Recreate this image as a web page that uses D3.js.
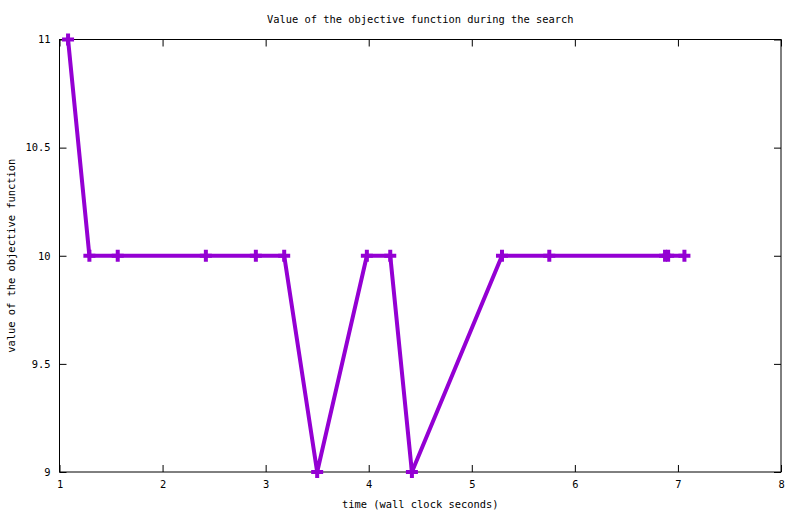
<!DOCTYPE html>
<html>
<head lang="en">
  <meta charset="UTF-8">
  <title>Value of the objective function during the search</title>
  <script src="https://cdn.jsdelivr.net/npm/d3@7"></script>
</head>
<style>
  body { margin: 0; background: #fff; }
  #chart text {
    font-family: "DejaVu Sans Mono", monospace;
    font-size: 10.4px;
    fill: #000;
  }
  #chart .frame { fill: none; stroke: #000; stroke-width: 1; }
  #chart .tick line { stroke: #000; }
  #chart .domain { display: none; }
</style>
<body>

<svg id="chart"></svg>

<script>
  // time (wall clock seconds) and objective value at each step
  var times  = [ 1.083, 1.29, 1.565, 2.42, 2.905, 3.18, 3.50, 3.982, 4.209, 4.419, 5.293, 5.752, 6.875, 6.905, 7.063 ];
  var values = [ 11, 10, 10, 10, 10, 10, 9, 10, 10, 9, 10, 10, 10, 10, 10 ];
  var xTicks = [ 1, 2, 3, 4, 5, 6, 7, 8 ];
  var yTicks = [ 9, 9.5, 10, 10.5, 11 ];

  var width = 800, height = 514;
  var margin = { top: 39.5, right: 19, bottom: 42, left: 59.5 };
  var color = '#9400d3';

  var svg = d3.select('#chart').attr('width', width).attr('height', height);

  var x = d3.scaleLinear().domain([1, 8]).range([margin.left, width - margin.right]);
  var y = d3.scaleLinear().domain([9, 11]).range([height - margin.bottom, margin.top]);

  var tickLen = 7;
  var fmt = function(d) { return String(d); };

  // bottom axis with labels, top mirror without
  svg.append('g')
    .attr('transform', 'translate(0,' + y(9) + ')')
    .call(d3.axisBottom(x).tickValues(xTicks).tickFormat(fmt).tickSizeInner(-tickLen).tickPadding(11))
    .call(function(g) { g.selectAll('text').attr('dy', '0.5em'); });
  svg.append('g')
    .attr('transform', 'translate(0,' + y(11) + ')')
    .call(d3.axisTop(x).tickValues(xTicks).tickFormat('').tickSizeInner(-tickLen));

  svg.append('g')
    .attr('transform', 'translate(' + x(1) + ',0)')
    .call(d3.axisLeft(y).tickValues(yTicks).tickFormat(fmt).tickSizeInner(-tickLen).tickPadding(9));
  svg.append('g')
    .attr('transform', 'translate(' + x(8) + ',0)')
    .call(d3.axisRight(y).tickValues(yTicks).tickFormat('').tickSizeInner(-tickLen));

  svg.append('rect').attr('class', 'frame')
    .attr('x', x(1)).attr('y', y(11))
    .attr('width', x(8) - x(1)).attr('height', y(9) - y(11));

  // titles
  svg.append('text')
    .attr('x', (x(1) + x(8)) / 2).attr('y', 23)
    .attr('text-anchor', 'middle')
    .text('Value of the objective function during the search');

  svg.append('text')
    .attr('x', (x(1) + x(8)) / 2).attr('y', 508)
    .attr('text-anchor', 'middle')
    .text('time (wall clock seconds)');

  svg.append('text')
    .attr('transform', 'translate(15,' + ((y(9) + y(11)) / 2) + ') rotate(-90)')
    .attr('text-anchor', 'middle')
    .text('value of the objective function');

  // the series
  var pts = times.map(function(t, i) { return [t, values[i]]; });

  svg.append('path')
    .datum(pts)
    .attr('fill', 'none')
    .attr('stroke', color)
    .attr('stroke-width', 4)
    .attr('stroke-linejoin', 'miter')
    .attr('d', d3.line().x(function(d) { return x(d[0]); }).y(function(d) { return y(d[1]); }));

  var s = 6;
  svg.append('g')
    .selectAll('path')
    .data(pts)
    .enter()
      .append('path')
      .attr('fill', 'none')
      .attr('stroke', color)
      .attr('stroke-width', 4)
      .attr('d', function(d) {
        var cx = x(d[0]), cy = y(d[1]);
        return 'M' + (cx - s) + ',' + cy + 'H' + (cx + s) + 'M' + cx + ',' + (cy - s) + 'V' + (cy + s);
      });
</script>
</body>
</html>
